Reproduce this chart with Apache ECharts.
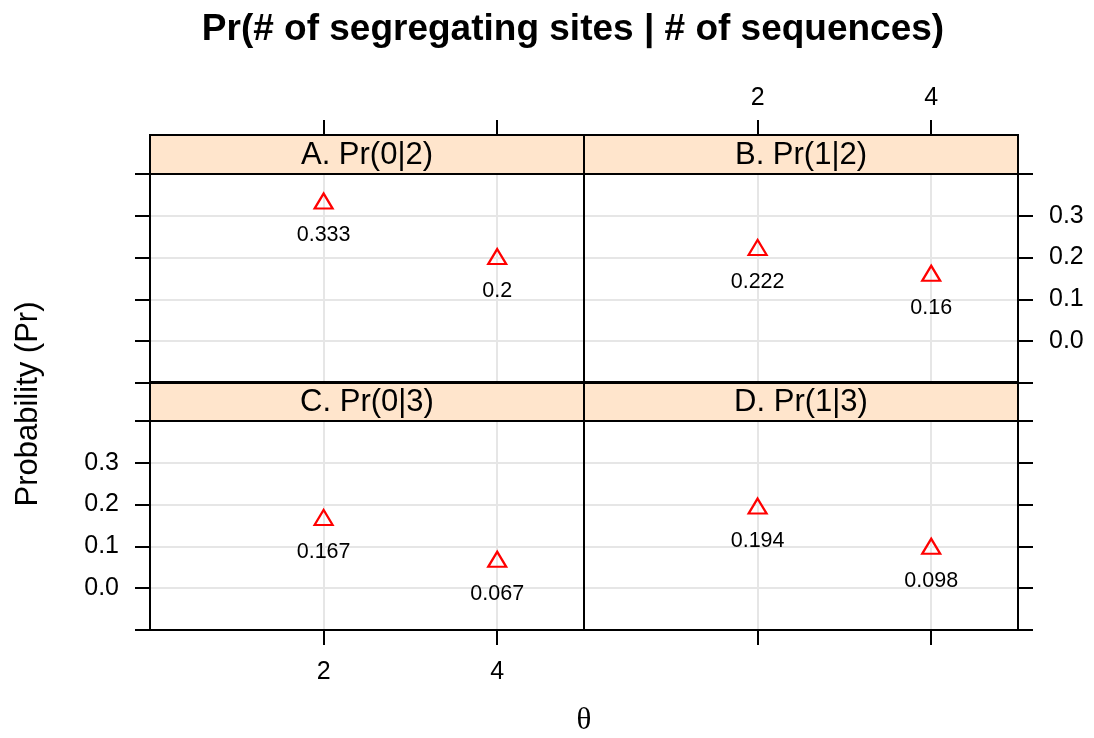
<!DOCTYPE html>
<html>
<head>
<meta charset="utf-8">
<script src="https://cdn.jsdelivr.net/npm/echarts@6/dist/echarts.min.js"></script>
<style>
html,body{margin:0;padding:0;background:#fff;}
#chart{width:1094px;height:738px;}
</style>
</head>
<body>
<div id="chart"></div>
<script>
// ---- data ----
const thetaValues = [2, 4];
const panelTitles = ['A. Pr(0|2)', 'B. Pr(1|2)', 'C. Pr(0|3)', 'D. Pr(1|3)'];
const prA = [0.333, 0.2];
const prB = [0.222, 0.16];
const prC = [0.167, 0.067];
const prD = [0.194, 0.098];
const panelValues = [prA, prB, prC, prD];
const xTickValues = [2, 4];
const titleText = 'Pr(# of segregating sites | # of sequences)';
const yTitle = 'Probability (Pr)';
const xTitle = 'θ';

// ---- layout ----
const FONT = 'Liberation Sans, Arial, Helvetica, sans-serif';
const colLeft = [150, 584];
const panelW = 434;
const rowTop = [174, 421];
const panelH = 209;
const stripH = 39;
const lineW = 2;

const chart = echarts.init(document.getElementById('chart'), null, {renderer: 'canvas'});

const grids = [], xAxes = [], yAxes = [], series = [], graphics = [];
for (let i = 0; i < 4; i++) {
  const row = Math.floor(i / 2), col = i % 2;
  const L = colLeft[col], T = rowTop[row];
  grids.push({left: L, top: T, width: panelW, height: panelH, containLabel: false});
  xAxes.push({
    gridIndex: i, type: 'value', min: 0, max: 5, interval: 1,
    position: row === 0 ? 'top' : 'bottom',
    offset: row === 0 ? stripH : 0,
    axisLine: {show: true, onZero: false, lineStyle: {color: '#000', width: lineW}},
    axisTick: {show: true, length: 15, customValues: xTickValues, lineStyle: {color: '#000', width: lineW}},
    axisLabel: {show: (i === 1 || i === 2), customValues: xTickValues, fontSize: 25, fontFamily: FONT, color: '#000',
      margin: row === 0 ? 24 : 30},
    splitLine: {show: true, lineStyle: {color: '#e6e6e6', width: 2}}
  });
  yAxes.push({
    gridIndex: i, type: 'value', min: -0.1, max: 0.4, interval: 0.1,
    position: col === 0 ? 'left' : 'right',
    axisLine: {show: true, onZero: false, lineStyle: {color: '#000', width: lineW}},
    axisTick: {show: true, length: 15, lineStyle: {color: '#000', width: lineW}},
    axisLabel: {show: (i === 1 || i === 2), fontSize: 25, fontFamily: FONT, color: '#000', margin: 31,
      formatter: v => (v < -0.05 || v > 0.35) ? '' : v.toFixed(1)},
    splitLine: {show: true, lineStyle: {color: '#e6e6e6', width: 2}}
  });
  series.push({
    type: 'scatter', xAxisIndex: i, yAxisIndex: i,
    data: thetaValues.map((t, j) => [t, panelValues[i][j]]),
    symbol: 'triangle', symbolSize: [18, 15], symbolOffset: [0, -1],
    itemStyle: {color: 'rgba(0,0,0,0)', borderColor: '#ff0000', borderWidth: 2.2, opacity: 1},
    label: {show: true, position: 'bottom', distance: 15, fontSize: 21.5, fontFamily: FONT, color: '#000',
      formatter: p => String(p.value[1])},
    emphasis: {disabled: true},
    z: 5
  });
  // strip
  graphics.push({type: 'rect', z: 50, shape: {x: L, y: T - stripH, width: panelW, height: stripH},
    style: {fill: '#ffe5cc', stroke: '#000', lineWidth: lineW}});
  graphics.push({type: 'text', z: 51, x: L + panelW / 2, y: T - stripH / 2 + 1,
    style: {text: panelTitles[i], align: 'center', verticalAlign: 'middle', fontSize: 31, fontFamily: FONT, fill: '#000'}});
  // panel border
  graphics.push({type: 'rect', z: 60, shape: {x: L, y: T, width: panelW, height: panelH},
    style: {fill: null, stroke: '#000', lineWidth: lineW}});
}
graphics.push({type: 'text', z: 51, x: 28, y: 404, rotation: Math.PI / 2,
  style: {text: yTitle, align: 'center', verticalAlign: 'middle', fontSize: 31, fontFamily: FONT, fill: '#000'}});
graphics.push({type: 'text', z: 51, x: 584, y: 721,
  style: {text: xTitle, align: 'center', verticalAlign: 'middle', fontSize: 31, fontFamily: 'Liberation Serif, DejaVu Serif, serif', fill: '#000'}});

chart.setOption({
  animation: false,
  backgroundColor: '#fff',
  title: {text: titleText, left: 573, top: 11, textAlign: 'center', padding: 0,
    textStyle: {fontSize: 37, fontWeight: 'bold', fontFamily: FONT, color: '#000'}},
  grid: grids, xAxis: xAxes, yAxis: yAxes, series: series, graphic: graphics
});
</script>
</body>
</html>
